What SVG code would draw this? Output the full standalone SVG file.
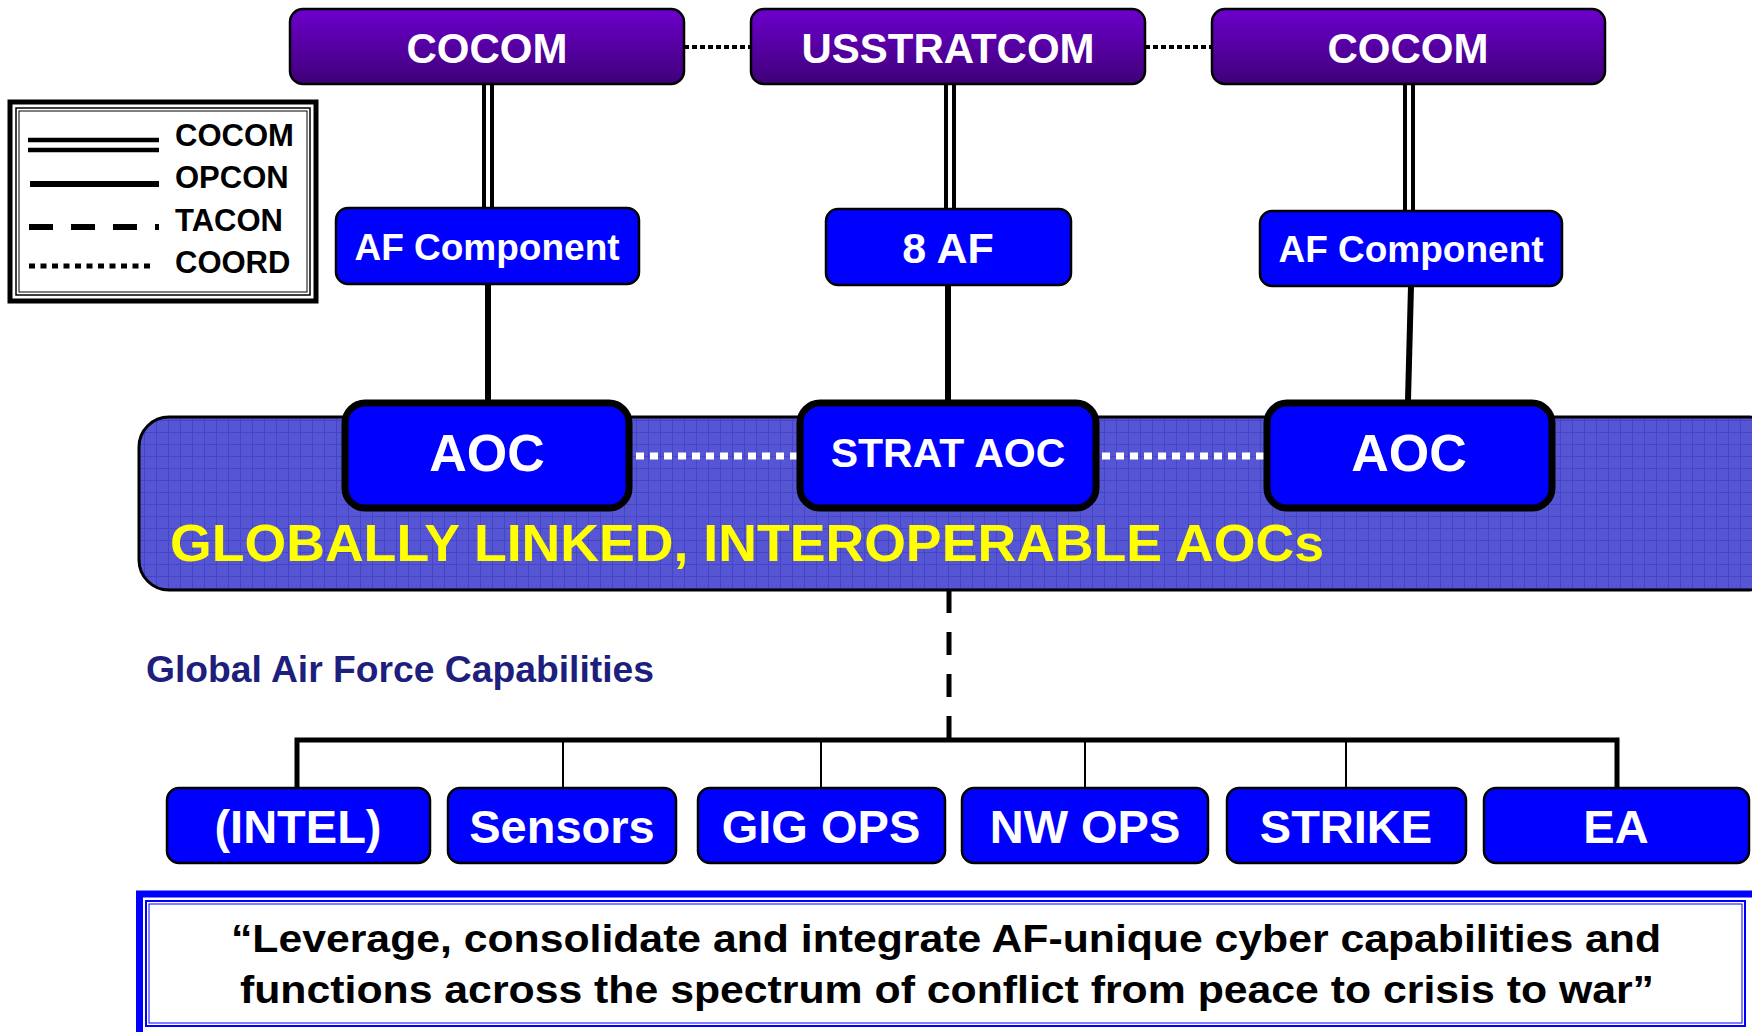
<svg xmlns="http://www.w3.org/2000/svg" width="1752" height="1032" viewBox="0 0 1752 1032">
<style>
text{font-family:"Liberation Sans",Arial,sans-serif;font-weight:bold}
.top{fill:url(#purp);stroke:#000;stroke-width:2.5}
.blue{fill:#0000FF;stroke:#000;stroke-width:2.5}
.aoc{fill:#0000FF;stroke:#000;stroke-width:7}
.wt{fill:#fff;text-anchor:middle}
.dbl-o{stroke:#000;stroke-width:12;fill:none}
.dbl-i{stroke:#fff;stroke-width:4;fill:none}
.op{stroke:#000;stroke-width:6;fill:none}
.thin{stroke:#000;stroke-width:2;fill:none}
.coord{stroke:#000;stroke-width:4;stroke-dasharray:5 3;fill:none}
.wcoord{stroke:#fff;stroke-width:7;stroke-dasharray:8 6;fill:none}
.tac{stroke:#000;stroke-width:5;stroke-dasharray:23 19;fill:none}
</style>
<defs>
<linearGradient id="purp" x1="0" y1="0" x2="0" y2="1">
<stop offset="0" stop-color="#6C00CC"/>
<stop offset="1" stop-color="#3F0078"/>
</linearGradient>
<pattern id="grid" width="12" height="12" patternUnits="userSpaceOnUse">
<rect width="12" height="12" fill="#5656D4"/>
<path d="M0 0.5H12M0.5 0V12" stroke="#4444C6" stroke-width="1"/>
</pattern>
</defs>
<rect width="1752" height="1032" fill="#fff"/>

<g id="legend">
<rect x="10" y="102" width="306" height="199" fill="#fff" stroke="#000" stroke-width="5"/>
<rect x="16" y="108" width="294" height="187" fill="none" stroke="#000" stroke-width="1.5"/>
<rect x="19" y="111" width="288" height="181" fill="none" stroke="#000" stroke-width="1"/>
<path d="M28 140H159M28 150H159" stroke="#000" stroke-width="4.5"/>
<path d="M30 184H159" stroke="#000" stroke-width="6"/>
<path d="M29 227H159" stroke="#000" stroke-width="6" stroke-dasharray="24 18"/>
<path d="M29 266H154" stroke="#000" stroke-width="5" stroke-dasharray="6 5.5"/>
<text x="175" y="146" font-size="31">COCOM</text>
<text x="175" y="188" font-size="31">OPCON</text>
<text x="175" y="231" font-size="31">TACON</text>
<text x="175" y="273" font-size="31">COORD</text>
</g>

<g id="band">
<rect x="139" y="417" width="1640" height="173" rx="30" fill="url(#grid)" stroke="#000" stroke-width="3"/>
<text x="170" y="561" font-size="52" fill="#FFFF00" textLength="1154" lengthAdjust="spacingAndGlyphs">GLOBALLY LINKED, INTEROPERABLE AOCs</text>
</g>

<g id="connectors">
<path class="coord" d="M684 47H751M1145 47H1212"/>
<path class="dbl-o" d="M488 84V208M950 84V209M1409 84V211"/>
<path class="dbl-i" d="M488 84V208M950 84V209M1409 84V211"/>
<path class="op" d="M488 284V400M948 285V400M1411 286L1408 400"/>
<path class="wcoord" d="M636 456H797M1102 456H1264"/>
<path class="tac" d="M949 590V740"/>
<path d="M297 790V740H1617V790" stroke="#000" stroke-width="5" fill="none"/>
<path class="thin" d="M563 740V788M821 740V788M1085 740V788M1346 740V788"/>
</g>

<g id="cocom-left">
<rect class="top" x="290" y="9" width="394" height="75" rx="13"/>
<text class="wt" x="487" y="63" font-size="42">COCOM</text>
</g>
<g id="usstratcom">
<rect class="top" x="751" y="9" width="394" height="75" rx="13"/>
<text class="wt" x="948" y="63" font-size="42">USSTRATCOM</text>
</g>
<g id="cocom-right">
<rect class="top" x="1212" y="9" width="393" height="75" rx="13"/>
<text class="wt" x="1408" y="63" font-size="42">COCOM</text>
</g>

<g id="afc-left">
<rect class="blue" x="336" y="208" width="303" height="76" rx="12"/>
<text class="wt" x="487" y="260" font-size="37">AF Component</text>
</g>
<g id="af8">
<rect class="blue" x="826" y="209" width="245" height="76" rx="12"/>
<text class="wt" x="948" y="263" font-size="43">8 AF</text>
</g>
<g id="afc-right">
<rect class="blue" x="1260" y="211" width="302" height="75" rx="12"/>
<text class="wt" x="1411" y="262" font-size="37">AF Component</text>
</g>

<g id="aoc-left">
<rect class="aoc" x="345" y="403" width="284" height="105" rx="20"/>
<text class="wt" x="487" y="471" font-size="52">AOC</text>
</g>
<g id="strat-aoc">
<rect class="aoc" x="800" y="403" width="296" height="105" rx="20"/>
<text class="wt" x="948" y="467" font-size="41">STRAT AOC</text>
</g>
<g id="aoc-right">
<rect class="aoc" x="1267" y="403" width="285" height="105" rx="20"/>
<text class="wt" x="1409" y="471" font-size="52">AOC</text>
</g>

<text id="caption" x="146" y="682" font-size="36" fill="#1E1E7C" textLength="508" lengthAdjust="spacingAndGlyphs">Global Air Force Capabilities</text>

<g id="intel">
<rect class="blue" x="167" y="788" width="263" height="75" rx="12"/>
<text class="wt" x="298" y="843" font-size="47">(INTEL)</text>
</g>
<g id="sensors">
<rect class="blue" x="448" y="788" width="228" height="75" rx="12"/>
<text class="wt" x="562" y="843" font-size="47">Sensors</text>
</g>
<g id="gig-ops">
<rect class="blue" x="698" y="788" width="247" height="75" rx="12"/>
<text class="wt" x="821" y="843" font-size="47">GIG OPS</text>
</g>
<g id="nw-ops">
<rect class="blue" x="962" y="788" width="246" height="75" rx="12"/>
<text class="wt" x="1085" y="843" font-size="47">NW OPS</text>
</g>
<g id="strike">
<rect class="blue" x="1227" y="788" width="239" height="75" rx="12"/>
<text class="wt" x="1346" y="843" font-size="47">STRIKE</text>
</g>
<g id="ea">
<rect class="blue" x="1484" y="788" width="265" height="75" rx="12"/>
<text class="wt" x="1616" y="843" font-size="47">EA</text>
</g>

<g id="quote">
<rect x="139.5" y="894" width="1620" height="150" fill="#fff" stroke="#0000FF" stroke-width="7"/>
<rect x="146" y="901" width="1599" height="125" fill="none" stroke="#0000FF" stroke-width="2"/>
<rect x="149" y="904" width="1593" height="119" fill="none" stroke="#0000FF" stroke-width="1"/>
<text x="946" y="952" font-size="39" text-anchor="middle" fill="#000" textLength="1430" lengthAdjust="spacingAndGlyphs">“Leverage, consolidate and integrate AF-unique cyber capabilities and</text>
<text x="947" y="1003" font-size="39" text-anchor="middle" fill="#000" textLength="1414" lengthAdjust="spacingAndGlyphs">functions across the spectrum of conflict from peace to crisis to war”</text>
</g>
</svg>
